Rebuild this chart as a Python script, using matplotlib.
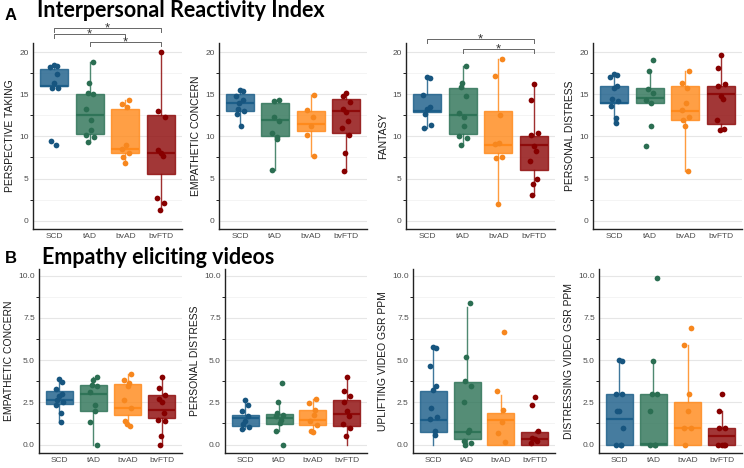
import numpy as np
import matplotlib
matplotlib.use("Agg")
import matplotlib.pyplot as plt

groups = ["SCD", "tAD", "bvAD", "bvFTD"]
box_colors = ["#1D5F8A", "#2F7458", "#FF8A1C", "#8E0B0B"]
point_colors = ["#17557F", "#2B6E52", "#F7871E", "#870000"]

# ---- A: Interpersonal Reactivity Index ----
pt_points = [
    [18.5, 18.4, 18.3, 17.4, 16.3, 15.8, 15.7, 9.4, 9.0],
    [18.9, 16.4, 15.1, 15.0, 13.3, 12.0, 10.8, 10.2, 9.9, 9.3],
    [14.3, 13.9, 13.5, 9.0, 8.5, 8.0, 7.6, 6.8],
    [20.0, 13.0, 12.3, 8.4, 8.0, 7.7, 2.7, 2.1, 1.2],
]
# q1, median, q3, whisker low, whisker high
pt_boxes = [
    [16.0, 16.0, 18.0, 15.7, 18.5],
    [10.25, 12.5, 15.0, 9.3, 18.9],
    [8.0, 8.5, 13.25, 6.8, 14.3],
    [5.5, 8.0, 12.5, 1.2, 20.0],
]

ec_points = [
    [15.5, 15.4, 14.8, 14.3, 14.0, 13.3, 13.0, 12.7, 11.2],
    [14.3, 14.2, 12.3, 11.8, 10.4, 9.9, 9.7, 6.0],
    [14.9, 13.1, 12.3, 11.2, 10.2, 7.7],
    [15.2, 14.8, 14.1, 13.3, 12.9, 11.8, 11.0, 10.2, 8.0, 5.9],
]
ec_boxes = [
    [13.0, 14.0, 15.0, 11.2, 15.5],
    [10.0, 12.0, 14.0, 6.0, 14.3],
    [10.7, 11.5, 13.0, 7.7, 14.9],
    [10.45, 13.0, 14.5, 5.9, 15.2],
]

fs_points = [
    [17.1, 16.9, 14.9, 13.45, 13.2, 12.7, 11.3, 11.0],
    [18.4, 16.4, 15.9, 14.8, 12.8, 12.3, 11.2, 10.0, 9.8, 9.0],
    [19.25, 17.2, 12.6, 9.2, 9.1, 7.6, 7.4, 2.0],
    [16.2, 14.3, 10.4, 10.2, 8.9, 8.3, 7.1, 5.0, 4.4, 3.0],
]
fs_boxes = [
    [12.9, 13.0, 15.0, 11.0, 17.1],
    [10.25, 12.5, 15.8, 9.0, 18.4],
    [8.0, 9.0, 13.0, 2.0, 19.25],
    [6.0, 9.0, 10.0, 3.0, 16.2],
]

pd_points = [
    [17.4, 17.3, 17.1, 16.0, 15.8, 14.4, 14.25, 13.6, 12.15, 11.6],
    [19.1, 17.8, 15.6, 15.2, 14.3, 14.0, 11.2, 8.9],
    [17.8, 16.3, 15.8, 14.0, 13.1, 12.3, 12.0, 11.2, 5.9],
    [19.7, 18.1, 16.2, 16.0, 14.8, 14.4, 11.9, 10.9, 10.8],
]
pd_boxes = [
    [14.0, 14.0, 16.0, 11.6, 17.4],
    [14.0, 14.6, 15.8, 14.0, 17.8],
    [12.0, 13.0, 16.0, 5.9, 17.8],
    [11.5, 15.0, 16.0, 10.8, 19.7],
]

# ---- B: Empathy eliciting videos ----
vec_points = [
    [3.88, 3.68, 3.29, 3.0, 2.85, 2.66, 2.52, 2.36, 1.87, 1.32],
    [4.0, 3.84, 3.5, 3.45, 3.1, 2.32, 1.97, 1.32, 0.0],
    [4.17, 3.84, 3.64, 3.48, 2.66, 2.17, 1.38, 1.24, 1.12],
    [4.0, 3.33, 2.95, 2.7, 2.54, 1.87, 1.48, 1.38, 0.49, 0.0],
]
vec_boxes = [
    [2.42, 2.66, 3.2, 1.32, 3.88],
    [1.97, 3.0, 3.5, 0.0, 4.0],
    [1.75, 2.17, 3.6, 1.12, 4.17],
    [1.55, 2.02, 2.91, 0.0, 4.0],
]

vpd_points = [
    [2.66, 2.36, 1.97, 1.67, 1.38, 1.22, 1.02, 0.95],
    [3.64, 2.5, 1.87, 1.77, 1.67, 1.48, 1.28, 0.83, 0.0],
    [2.7, 2.46, 2.07, 1.77, 1.38, 1.18, 0.83, 0.73],
    [4.0, 3.15, 2.85, 2.5, 1.97, 1.67, 1.22, 0.98, 0.49],
]
vpd_boxes = [
    [1.08, 1.57, 1.77, 0.95, 2.66],
    [1.22, 1.57, 1.83, 0.83, 2.5],
    [1.14, 1.48, 2.07, 0.73, 2.7],
    [1.08, 1.83, 2.66, 0.0, 4.0],
]

up_points = [
    [5.77, 5.71, 4.67, 3.48, 3.21, 2.17, 1.63, 1.52, 0.79, 0.59],
    [8.37, 5.18, 3.74, 3.44, 2.5, 0.85, 0.73, 0.2, 0.1, 0.0],
    [6.69, 3.15, 2.07, 1.32, 0.69, 0.14],
    [2.81, 2.34, 0.83, 0.39, 0.3, 0.2, 0.1],
]
up_boxes = [
    [0.73, 1.48, 3.15, 0.0, 5.8],
    [0.33, 0.75, 3.7, 0.0, 8.17],
    [0.0, 1.48, 1.87, 0.0, 2.95],
    [0.0, 0.35, 0.75, 0.0, 0.83],
]

ds_points = [
    [5.0, 4.95, 3.0, 2.98, 2.0, 1.98, 1.0, 0.0, 0.0, 0.0],
    [9.85, 4.95, 3.0, 2.98, 2.0, 0.0, 0.0, 0.0],
    [6.9, 5.9, 3.0, 2.0, 1.0, 1.0, 0.0],
    [3.0, 2.0, 1.0, 1.0, 0.0, 0.0, 0.0, 0.0],
]
ds_boxes = [
    [0.0, 1.5, 3.0, 0.0, 5.0],
    [0.0, 0.05, 3.0, 0.0, 5.0],
    [0.0, 1.0, 2.5, 0.0, 5.9],
    [0.0, 0.5, 1.0, 0.0, 2.0],
]

top_panels = [
    ("PERSPECTIVE TAKING", pt_points, pt_boxes),
    ("EMPATHETIC CONCERN", ec_points, ec_boxes),
    ("FANTASY", fs_points, fs_boxes),
    ("PERSONAL DISTRESS", pd_points, pd_boxes),
]
bottom_panels = [
    ("EMPATHETIC CONCERN", vec_points, vec_boxes),
    ("PERSONAL DISTRESS", vpd_points, vpd_boxes),
    ("UPLIFTING VIDEO GSR PPM", up_points, up_boxes),
    ("DISTRESSING VIDEO GSR PPM", ds_points, ds_boxes),
]

# significance brackets: (panel, group a, group b, height)
sig_top = [
    (0, 1, 4, 22.9), (0, 1, 3, 22.2), (0, 2, 4, 21.2),
    (2, 1, 4, 21.6), (2, 2, 4, 20.4),
]

W, H = 744, 468
fig = plt.figure(figsize=(W / 100, H / 100), dpi=100)
plt.rcParams["font.family"] = ["Liberation Sans", "DejaVu Sans"]

top_x = [(33, 182), (219, 367), (406, 555), (593, 742)]
bot_x = [(39, 182), (225, 367), (413, 555), (599, 742)]


def make_ax(x0, x1, ytop, ybot):
    return fig.add_axes([x0 / W, 1 - ybot / H, (x1 - x0) / W, (ybot - ytop) / H])


def draw_panel(ax, label, points, boxes, ylim, major, minor, fmt):
    ax.set_xlim(0.4, 4.6)
    ax.set_ylim(*ylim)
    ax.set_yticks(major)
    ax.set_yticks(minor, minor=True)
    ax.set_yticklabels([fmt % v for v in major])
    ax.grid(axis="y", which="major", color="#E6E6E6", lw=0.8)
    ax.grid(axis="y", which="minor", color="#F0F0F0", lw=0.5)
    ax.set_axisbelow(True)
    stats = []
    for q1, med, q3, lo, hi in boxes:
        stats.append(dict(q1=q1, med=med, q3=q3, whislo=lo, whishi=hi, fliers=[]))
    bp = ax.bxp(stats, positions=[1, 2, 3, 4], widths=0.8, patch_artist=True,
                showcaps=False, showfliers=False)
    for i in range(4):
        c = box_colors[i]
        bp["boxes"][i].set(facecolor=c, alpha=0.82, edgecolor=c, lw=1.0)
        bp["medians"][i].set(color=c, lw=1.6)
        for w in bp["whiskers"][2 * i:2 * i + 2]:
            w.set(color=c, lw=1.0, alpha=0.85)
    for i, vals in enumerate(points):
        n = len(vals)
        jit = 0.11 * np.sin(np.arange(n) * 2.4 + i)
        ax.scatter(i + 1 + jit, vals, s=17, color=point_colors[i], zorder=5,
                   linewidths=0)
    ax.set_xticks([1, 2, 3, 4])
    ax.set_xticklabels(groups)
    ax.tick_params(length=0, labelsize=6, labelcolor="#4D4D4D", pad=3)
    for s in ["top", "right"]:
        ax.spines[s].set_visible(False)
    for s in ["left", "bottom"]:
        ax.spines[s].set_color("#222222")
        ax.spines[s].set_linewidth(1.0)
    ax.set_ylabel(label, fontsize=7.5, color="#1A1A1A", labelpad=3)


top_axes = []
for (x0, x1), (label, pts, bx) in zip(top_x, top_panels):
    ax = make_ax(x0, x1, 43, 229)
    draw_panel(ax, label, pts, bx, (-1, 21.1), [0, 5, 10, 15, 20],
               [2.5, 7.5, 12.5, 17.5], "%d")
    top_axes.append(ax)

for (x0, x1), (label, pts, bx) in zip(bot_x, bottom_panels):
    ax = make_ax(x0, x1, 269, 453)
    draw_panel(ax, label, pts, bx, (-0.5, 10.4), [0, 2.5, 5, 7.5, 10],
               [1.25, 3.75, 6.25, 8.75], "%.1f")

for p, a, b, h in sig_top:
    ax = top_axes[p]
    ax.plot([a, a, b, b], [h - 0.5, h, h, h - 0.5], color="#666666", lw=0.7,
            clip_on=False)
    ax.text((a + b) / 2, h - 0.42, "*", ha="center", va="baseline", fontsize=9.5,
            color="#333333", clip_on=False)

fig.text(5 / W, 1 - 20 / H, "A", fontsize=12, fontweight="bold", va="baseline")
fig.text(37 / W, 1 - 16.8 / H, "Interpersonal Reactivity Index", fontsize=15.5,
         fontweight="bold", family="Lato", va="baseline")
fig.text(5 / W, 1 - 263 / H, "B", fontsize=12, fontweight="bold", va="baseline")
fig.text(42 / W, 1 - 264 / H, "Empathy eliciting videos", fontsize=15.5,
         fontweight="bold", family="Lato", va="baseline")

fig.savefig("out.png", dpi=100)
